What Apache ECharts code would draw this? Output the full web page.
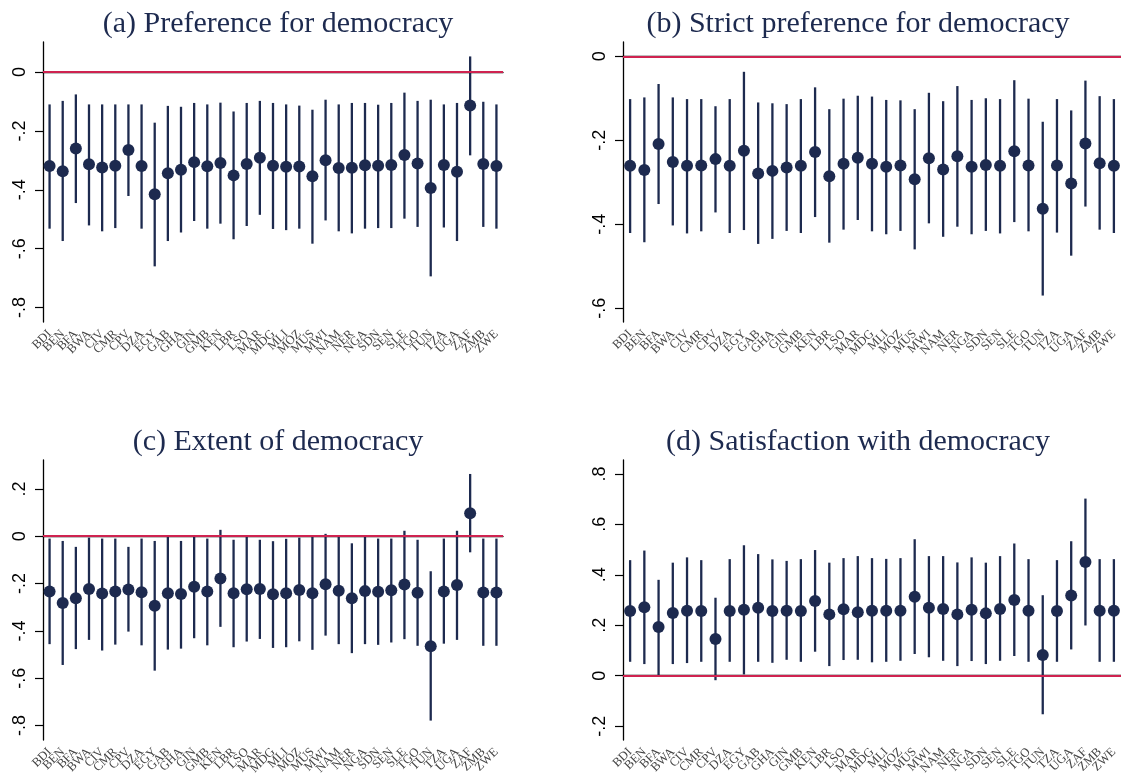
<!DOCTYPE html>
<html>
<head>
<meta charset="utf-8">
<script src="https://cdn.jsdelivr.net/npm/echarts@6/dist/echarts.min.js"></script>
<style>
  html, body { margin: 0; padding: 0; background: #fff; }
  #main { width: 1121px; height: 783px; }
</style>
</head>
<body>
<div id="main"></div>
<script>
// country codes (x axis)
var countries = ['BDI','BEN','BFA','BWA','CIV','CMR','CPV','DZA','EGY','GAB','GHA','GIN','GMB','KEN','LBR','LSO','MAR','MDG','MLI','MOZ','MUS','MWI','NAM','NER','NGA','SDN','SEN','SLE','TGO','TUN','TZA','UGA','ZAF','ZMB','ZWE'];

// (a) Preference for democracy
var aPoint = [-0.319,-0.337,-0.260,-0.313,-0.324,-0.318,-0.265,-0.319,-0.415,-0.344,-0.332,-0.306,-0.320,-0.309,-0.351,-0.312,-0.291,-0.318,-0.322,-0.321,-0.354,-0.300,-0.326,-0.325,-0.317,-0.318,-0.316,-0.282,-0.311,-0.394,-0.316,-0.339,-0.114,-0.312,-0.319];
var aHigh  = [-0.110,-0.098,-0.076,-0.110,-0.110,-0.110,-0.110,-0.110,-0.172,-0.115,-0.118,-0.105,-0.110,-0.104,-0.134,-0.105,-0.098,-0.105,-0.110,-0.114,-0.128,-0.094,-0.110,-0.105,-0.105,-0.111,-0.105,-0.070,-0.098,-0.094,-0.110,-0.105,0.053,-0.101,-0.110];
var aLow   = [-0.532,-0.574,-0.445,-0.521,-0.541,-0.530,-0.421,-0.532,-0.660,-0.574,-0.545,-0.506,-0.532,-0.515,-0.568,-0.523,-0.485,-0.533,-0.537,-0.532,-0.583,-0.504,-0.541,-0.548,-0.532,-0.530,-0.530,-0.498,-0.526,-0.694,-0.528,-0.574,-0.283,-0.526,-0.532];

// (b) Strict preference for democracy
var bPoint = [-0.261,-0.271,-0.209,-0.252,-0.261,-0.260,-0.245,-0.261,-0.225,-0.279,-0.273,-0.265,-0.261,-0.228,-0.286,-0.256,-0.242,-0.256,-0.263,-0.260,-0.293,-0.243,-0.270,-0.238,-0.263,-0.259,-0.261,-0.226,-0.260,-0.363,-0.260,-0.303,-0.208,-0.255,-0.261];
var bHigh  = [-0.102,-0.098,-0.066,-0.098,-0.102,-0.102,-0.119,-0.102,-0.037,-0.110,-0.112,-0.114,-0.102,-0.074,-0.126,-0.101,-0.094,-0.096,-0.104,-0.105,-0.126,-0.087,-0.107,-0.071,-0.104,-0.100,-0.102,-0.057,-0.101,-0.156,-0.102,-0.129,-0.058,-0.095,-0.102];
var bLow   = [-0.421,-0.443,-0.352,-0.403,-0.422,-0.417,-0.372,-0.421,-0.414,-0.447,-0.435,-0.416,-0.421,-0.383,-0.444,-0.413,-0.390,-0.417,-0.424,-0.416,-0.460,-0.398,-0.430,-0.406,-0.424,-0.416,-0.422,-0.395,-0.417,-0.570,-0.420,-0.475,-0.358,-0.413,-0.421];

// (c) Extent of democracy
var cPoint = [-0.234,-0.282,-0.262,-0.223,-0.242,-0.234,-0.225,-0.237,-0.294,-0.241,-0.244,-0.214,-0.234,-0.179,-0.241,-0.224,-0.223,-0.245,-0.241,-0.227,-0.241,-0.203,-0.230,-0.262,-0.232,-0.235,-0.228,-0.204,-0.239,-0.465,-0.234,-0.206,0.097,-0.238,-0.238];
var cHigh  = [-0.010,-0.020,-0.045,-0.006,-0.010,-0.010,-0.045,-0.010,-0.020,-0.001,-0.020,-0.001,-0.010,0.027,-0.015,-0.001,-0.015,-0.021,-0.011,-0.006,-0.001,0.010,-0.001,-0.030,-0.001,-0.010,-0.010,0.023,-0.015,-0.148,-0.010,0.023,0.263,-0.010,-0.010];
var cLow   = [-0.456,-0.544,-0.477,-0.438,-0.483,-0.458,-0.403,-0.461,-0.568,-0.479,-0.475,-0.431,-0.461,-0.383,-0.469,-0.445,-0.434,-0.472,-0.469,-0.444,-0.480,-0.420,-0.456,-0.494,-0.456,-0.459,-0.449,-0.435,-0.463,-0.779,-0.454,-0.438,-0.068,-0.463,-0.463];

// (d) Satisfaction with democracy
var dPoint = [0.256,0.271,0.193,0.248,0.257,0.256,0.145,0.256,0.261,0.269,0.256,0.257,0.256,0.296,0.243,0.263,0.251,0.257,0.257,0.257,0.313,0.269,0.264,0.243,0.261,0.247,0.264,0.300,0.257,0.082,0.256,0.318,0.451,0.257,0.257];
var dHigh  = [0.458,0.496,0.380,0.448,0.469,0.458,0.309,0.462,0.517,0.482,0.461,0.455,0.462,0.498,0.448,0.466,0.474,0.466,0.463,0.466,0.541,0.474,0.474,0.449,0.469,0.448,0.474,0.524,0.462,0.319,0.458,0.533,0.702,0.462,0.462];
var dLow   = [0.055,0.046,0.000,0.046,0.050,0.055,-0.018,0.055,0.005,0.055,0.051,0.063,0.055,0.095,0.038,0.062,0.063,0.053,0.055,0.059,0.086,0.073,0.059,0.038,0.058,0.046,0.059,0.078,0.055,-0.153,0.055,0.104,0.199,0.055,0.055];

// y tick labels per panel
var aTicks = [0, -0.2, -0.4, -0.6, -0.8];
var bTicks = [0, -0.2, -0.4, -0.6];
var cTicks = [0.2, 0, -0.2, -0.4, -0.6, -0.8];
var dTicks = [0.8, 0.6, 0.4, 0.2, 0, -0.2];

var titles = ['(a) Preference for democracy', '(b) Strict preference for democracy',
              '(c) Extent of democracy', '(d) Satisfaction with democracy'];

var navy = '#1d2a4f';
var red = '#cf2350';

var myChart = echarts.init(document.getElementById('main'));

var grids = [
    {left: 43, top: 42, width: 460, height: 280},
    {left: 623, top: 42, width: 498, height: 280},
    {left: 43, top: 460, width: 460, height: 280},
    {left: 623, top: 460, width: 498, height: 280}
];
var ranges = [[-0.849, 0.102], [-0.633, 0.034], [-0.861, 0.322], [-0.255, 0.855]];
var ticks = [aTicks, bTicks, cTicks, dTicks];
var panels = [[aPoint, aLow, aHigh], [bPoint, bLow, bHigh], [cPoint, cLow, cHigh], [dPoint, dLow, dHigh]];
var titlePos = [[273, 4], [853, 4], [273, 422], [853, 422]];

function stataLabel(v) {
    v = Math.round(v * 10) / 10;
    if (v === 0) return '0';
    var s = String(Math.abs(v)).replace(/^0/, '');
    return (v < 0 ? '-' : '') + s;
}

var xAxes = [], yAxes = [], series = [], titleList = [];
for (var i = 0; i < 4; i++) {
    titleList.push({
        text: titles[i],
        left: titlePos[i][0],
        top: titlePos[i][1],
        textAlign: 'center',
        textStyle: {
            fontFamily: 'Liberation Serif',
            fontWeight: 'normal',
            fontSize: 30,
            color: navy
        }
    });
    xAxes.push({
        type: 'category',
        gridIndex: i,
        data: countries,
        boundaryGap: true,
        axisLine: {lineStyle: {color: '#000', width: 1.3}},
        axisTick: {alignWithLabel: true, length: 8, lineStyle: {color: '#000', width: 1.2}},
        axisLabel: {
            interval: 0,
            rotate: 45,
            margin: 10,
            fontFamily: 'Liberation Serif',
            fontSize: 12.5,
            color: '#444'
        },
        splitLine: {show: false}
    });
    yAxes.push({
        type: 'value',
        gridIndex: i,
        min: ranges[i][0],
        max: ranges[i][1],
        axisLine: {show: true, lineStyle: {color: '#000', width: 1.3}},
        axisTick: {show: true, length: 8, customValues: ticks[i], lineStyle: {color: '#000', width: 1.2}},
        axisLabel: {
            rotate: 90,
            margin: 14,
            customValues: ticks[i],
            fontFamily: 'Liberation Sans',
            fontSize: 18,
            color: '#000',
            formatter: stataLabel
        },
        splitLine: {show: false}
    });

    var p = panels[i];
    var barData = [];
    for (var k = 0; k < countries.length; k++) {
        barData.push([k, p[1][k], p[2][k]]);
    }
    series.push({
        type: 'custom',
        xAxisIndex: i,
        yAxisIndex: i,
        data: barData,
        renderItem: function (params, api) {
            var lo = api.coord([api.value(0), api.value(1)]);
            var hi = api.coord([api.value(0), api.value(2)]);
            return {
                type: 'line',
                shape: {x1: lo[0], y1: lo[1], x2: hi[0], y2: hi[1]},
                style: {stroke: navy, lineWidth: 2.3}
            };
        },
        markLine: {
            silent: true,
            symbol: 'none',
            label: {show: false},
            lineStyle: {color: red, width: 2, type: 'solid'},
            data: [{yAxis: 0}]
        },
        z: 2
    });
    series.push({
        type: 'scatter',
        xAxisIndex: i,
        yAxisIndex: i,
        data: p[0],
        symbol: 'circle',
        symbolSize: 12,
        itemStyle: {color: navy, opacity: 1},
        z: 3
    });
}

var option = {
    backgroundColor: '#fff',
    animation: false,
    title: titleList,
    grid: grids,
    xAxis: xAxes,
    yAxis: yAxes,
    series: series
};
myChart.setOption(option);
</script>
</body>
</html>
